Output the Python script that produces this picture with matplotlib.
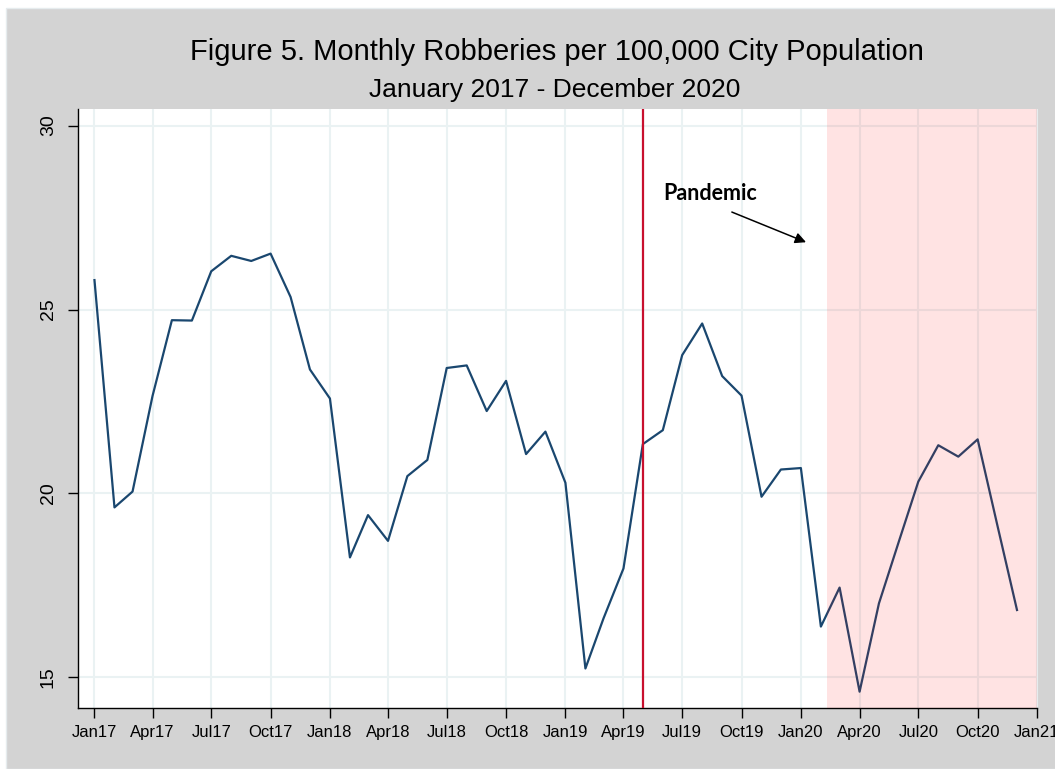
import pandas as pd
import matplotlib
matplotlib.use("Agg")
import matplotlib.pyplot as plt
import matplotlib.dates as mdates
from matplotlib.patches import Rectangle

# monthly robberies per 100,000 population, Jan 2017 - Dec 2020
mesi = pd.date_range("2017-01-01", periods=48, freq="MS")
rapine = [25.80, 19.62, 20.05, 22.65, 24.71, 24.70, 26.04, 26.46, 26.32, 26.52, 25.34, 23.37,
          22.58, 18.26, 19.41, 18.71, 20.47, 20.91, 23.41, 23.48, 22.24, 23.06, 21.07, 21.68,
          20.29, 15.24, 16.60, 17.96, 21.34, 21.72, 23.76, 24.62, 23.19, 22.66, 19.91, 20.65,
          20.69, 16.38, 17.44, 14.61, 17.01, 18.70, 20.32, 21.31, 21.00, 21.47, 19.10, 16.83]

linea_rossa = pd.Timestamp("2019-05-01")
inizio_pandemia = pd.Timestamp("2020-02-11")
fine_asse = pd.Timestamp("2021-01-01")
y_ticks = [15, 20, 25, 30]

grigio = "#d3d3d3"
griglia = "#eaf2f3"
blu = "#1a476f"

fig = plt.figure(figsize=(10.55, 7.69), dpi=100, facecolor="white")
sfondo = Rectangle((6 / 1055, 0), 1, (769 - 8) / 769, transform=fig.transFigure,
                   facecolor=grigio, edgecolor="#e6ecee", linewidth=1, zorder=-10)
fig.patches.append(sfondo)
ax = fig.add_axes([77.7 / 1055, 61 / 769, (1037 - 77.7) / 1055, (708 - 108.7) / 769])
ax.set_zorder(1)
ax.set_facecolor("white")

ax.plot(mesi, rapine, color=blu, linewidth=1.6, zorder=3)
ax.axvline(linea_rossa, color="#c8102e", linewidth=1.6, zorder=4)
ax.axvspan(inizio_pandemia, fine_asse, color="red", alpha=0.11, linewidth=0, zorder=5)

ax.text(pd.Timestamp("2019-08-14"), 28.16, "Pandemic", family="Lato", weight="bold",
        fontsize=15.5, ha="center", va="center", zorder=6)
ax.annotate("", xy=(pd.Timestamp("2020-01-09"), 26.83), xytext=(pd.Timestamp("2019-09-16"), 27.65),
            arrowprops=dict(arrowstyle="-|>", color="black", lw=1.1, mutation_scale=16,
                            shrinkA=0, shrinkB=0), zorder=6)

ax.set_xlim(pd.Timestamp("2016-12-06"), fine_asse)
ax.set_ylim(14.166, 30.46)
ax.xaxis.set_major_locator(mdates.MonthLocator(bymonth=[1, 4, 7, 10]))
ax.xaxis.set_major_formatter(mdates.DateFormatter("%b%y"))
ax.set_yticks(y_ticks)
ax.grid(True, color=griglia, linewidth=1.5, zorder=1)
ax.set_axisbelow(True)

for lab in ax.get_yticklabels():
    lab.set_rotation(90)
    lab.set_va("center")
ax.tick_params(axis="x", length=7, width=1, pad=5, labelsize=12)
ax.tick_params(axis="y", length=7, width=1, pad=8, labelsize=14)
for lab in ax.get_xticklabels() + ax.get_yticklabels():
    lab.set_family("Liberation Sans")

ax.spines["top"].set_visible(False)
ax.spines["right"].set_color("#e6ecee")
ax.spines["left"].set_linewidth(1)
ax.spines["bottom"].set_linewidth(1)

fig.text(0.5275, 1 - 52 / 769, "Figure 5. Monthly Robberies per 100,000 City Population",
         family="Liberation Sans", fontsize=21, ha="center", va="center")
fig.text(0.526, 1 - 90 / 769, "January 2017 - December 2020",
         family="Liberation Sans", fontsize=19, ha="center", va="center")

fig.savefig("out.png", dpi=100, facecolor=fig.get_facecolor())
